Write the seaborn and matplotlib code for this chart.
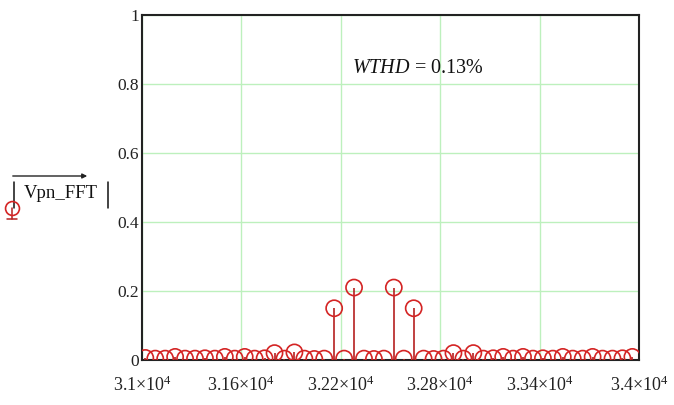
import matplotlib
matplotlib.use("Agg")
import matplotlib.pyplot as plt
import seaborn as sns
import pandas as pd

# Harmonic frequencies (Hz) around the switching carrier and their magnitudes
freq_hz = [31020, 31080, 31140, 31200, 31260, 31320, 31380, 31440, 31500, 31560,
           31620, 31680, 31740, 31800, 31860, 31920, 31980, 32040, 32100, 32160,
           32220, 32280, 32340, 32400, 32460, 32520, 32580, 32640, 32700, 32760,
           32820, 32880, 32940, 33000, 33060, 33120, 33180, 33240, 33300, 33360,
           33420, 33480, 33540, 33600, 33660, 33720, 33780, 33840, 33900, 33960]
vpn_fft = [0.006, 0.004, 0.004, 0.009, 0.004, 0.004, 0.005, 0.004, 0.009, 0.004,
           0.009, 0.004, 0.005, 0.020, 0.004, 0.022, 0.004, 0.003, 0.004, 0.150,
           0.004, 0.210, 0.004, 0.003, 0.004, 0.210, 0.004, 0.150, 0.004, 0.003,
           0.004, 0.020, 0.004, 0.020, 0.004, 0.005, 0.009, 0.004, 0.009, 0.004,
           0.005, 0.004, 0.009, 0.004, 0.004, 0.009, 0.004, 0.004, 0.005, 0.009]

x_ticks = [31000, 31600, 32200, 32800, 33400, 34000]
x_tick_labels = [r"$3.1{\times}10^{4}$", r"$3.16{\times}10^{4}$", r"$3.22{\times}10^{4}$",
                 r"$3.28{\times}10^{4}$", r"$3.34{\times}10^{4}$", r"$3.4{\times}10^{4}$"]
y_ticks = [0, 0.2, 0.4, 0.6, 0.8, 1.0]
y_tick_labels = ["0", "0.2", "0.4", "0.6", "0.8", "1"]
wthd_text = r"$\mathit{WTHD}$ = 0.13%"

df = pd.DataFrame({"freq": freq_hz, "mag": vpn_fft})

sns.set_theme(style="whitegrid")
plt.rcParams["font.family"] = ["Liberation Serif", "DejaVu Serif"]
plt.rcParams["mathtext.fontset"] = "custom"
plt.rcParams["mathtext.rm"] = "Liberation Serif"
plt.rcParams["mathtext.it"] = "Liberation Serif:italic"

red = "#d42424"
stem_red = "#b52020"

fig = plt.figure(figsize=(6.74, 4.05), dpi=100)
fig.patch.set_facecolor("white")
ax = fig.add_axes([142 / 674, 1 - 360 / 405, (639 - 142) / 674, (360 - 15) / 405])
ax.set_facecolor("white")

# stems
ax.vlines(df["freq"], 0, df["mag"], color=stem_red, linewidth=1.2, zorder=3)
# open circle heads
sns.scatterplot(data=df, x="freq", y="mag", ax=ax, marker="o", s=135,
                facecolor="none", edgecolor=red, linewidth=1.2, zorder=4,
                legend=False)

ax.set_xlim(31000, 34000)
ax.set_ylim(0, 1)
ax.set_xticks(x_ticks)
ax.set_xticklabels(x_tick_labels)
ax.set_yticks(y_ticks)
ax.set_yticklabels(y_tick_labels)
ax.tick_params(axis="both", length=0, labelsize=12.5, colors="#222222")
ax.tick_params(axis="x", pad=11, labelsize=13)
ax.tick_params(axis="y", pad=2)
ax.set_xlabel("")
ax.set_ylabel("")

ax.grid(True, color="#bdf0bd", linewidth=1.0)
for side in ["left", "right", "top", "bottom"]:
    ax.spines[side].set_visible(True)
    ax.spines[side].set_color("#222222")
    ax.spines[side].set_linewidth(1.5)
ax.set_axisbelow(True)

ax.text(32666, 0.846, wthd_text, fontsize=14.5, ha="center", va="center",
        color="#111111")

# vector-magnitude style axis label on the left
fig.text(61 / 674, 1 - 193 / 405, "Vpn_FFT", fontsize=13.5, ha="center",
         va="center", color="#111111")
fig.lines.append(plt.Line2D([14 / 674, 14 / 674], [1 - 182 / 405, 1 - 208 / 405],
                            transform=fig.transFigure, color="#111111", lw=1.1))
fig.lines.append(plt.Line2D([108 / 674, 108 / 674], [1 - 182 / 405, 1 - 208 / 405],
                            transform=fig.transFigure, color="#111111", lw=1.1))
fig.patches.append(matplotlib.patches.FancyArrowPatch(
    (10 / 674, 1 - 176 / 405), (90 / 674, 1 - 176 / 405),
    transform=fig.transFigure, arrowstyle="-|>", mutation_scale=7,
    color="#222222", lw=1.0))
# series key: stem with circle head
fig.lines.append(plt.Line2D([12 / 674, 12 / 674], [1 - 208 / 405, 1 - 219 / 405],
                            transform=fig.transFigure, color=stem_red, lw=1.1))
fig.lines.append(plt.Line2D([7 / 674, 17 / 674], [1 - 219 / 405, 1 - 219 / 405],
                            transform=fig.transFigure, color=stem_red, lw=1.1))
fig.lines.append(plt.Line2D([12 / 674], [1 - 208 / 405], transform=fig.transFigure,
                            marker="o", markersize=10, markerfacecolor="none",
                            markeredgecolor=red, markeredgewidth=1.2, linestyle="none"))

fig.savefig("out.png", dpi=100, facecolor="white")
